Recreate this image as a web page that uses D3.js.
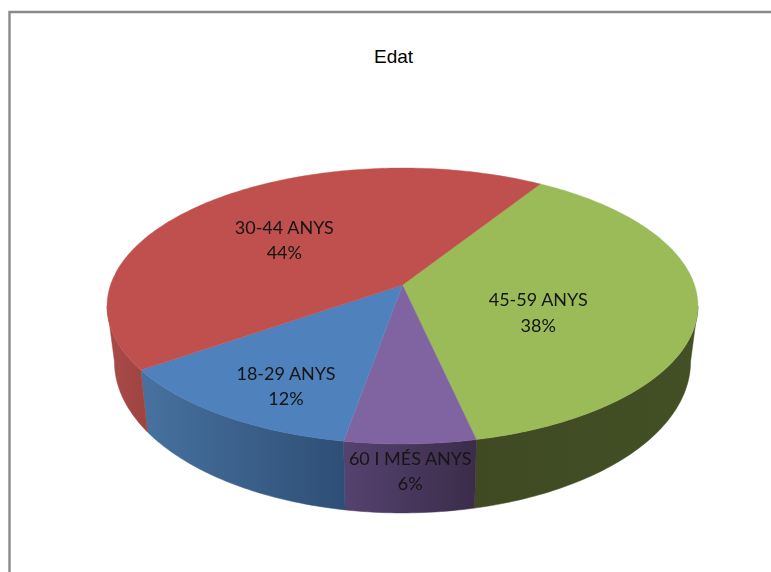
<!DOCTYPE html>
<html lang="ca">
<head>
<meta charset="utf-8">
<title>Edat</title>
<script src="https://cdn.jsdelivr.net/npm/d3@7/dist/d3.min.js"></script>
<style>
html,body{margin:0;padding:0;background:#fff;}
svg{display:block;}
</style>
</head>
<body>
<div id="chart"></div>
<script>
// ---- data (in drawing order, clockwise from the top right) ----
const titleText = "Edat";
const categories = ["45-59 ANYS", "60 I MÉS ANYS", "18-29 ANYS", "30-44 ANYS"];
const shares = [37.6, 6.2, 12.49, 43.71];

// ---- styles & layout ----
const topColors = ["#9BBB59", "#8064A2", "#4F81BD", "#C0504D"];
const sideColors = [["#3F4A22", "#434F25"], ["#55426F", "#3B2C4A"], ["#47729F", "#2E4E76"], ["#A94C49", "#9F4340"]];
const labelRadius = [0.5, 1, 0.5, 0.5];
const labelNudge = [[-10, 9.3], [0, 21], [-33, 34], [-17.6, -7]];
const W = 771, H = 572;
const cx = 402.5, cy = 285, a = 292, b = 134.8, k = 0.152;
const sideScaleX = 0.975, sideScaleY = 1.096, sideDrop = 53.7;
const startDeg = 32.2, stepDeg = 1;

const svg = d3.select("#chart").append("svg").attr("width", W).attr("height", H).attr("viewBox", [0, 0, W, H]);
const defs = svg.append("defs");
defs.append("filter").attr("id", "soft").attr("x", "-5%").attr("y", "-5%").attr("width", "110%").attr("height", "110%")
  .append("feGaussianBlur").attr("stdDeviation", 0.35);

// frame
const frame = d3.path();
frame.moveTo(9.5, H); frame.lineTo(9.5, 12); frame.lineTo(W, 12);
svg.append("path").attr("d", frame.toString()).attr("fill", "none").attr("stroke", "#8A8A8A").attr("stroke-width", 2.4);

// perspective projection of the pie disc
const rad = d => d * Math.PI / 180;
function project(theta, r = 1) {
  const w = 1 + k * r * Math.cos(theta);
  return [cx + a * r * Math.sin(theta) / w, cy - b * r * Math.cos(theta) / w];
}
function projectBottom(theta) {
  const [x, y] = project(theta);
  return [cx + sideScaleX * (x - cx), cy + sideDrop + sideScaleY * (y - cy)];
}

const pie = d3.pie().sort(null).value(d => d).startAngle(rad(startDeg)).endAngle(rad(startDeg + 360));
const arcs = pie(shares);
const line = d3.line();
const sweep = (t0, t1) => {
  const n = Math.max(2, Math.ceil((t1 - t0) / rad(stepDeg)));
  return d3.range(n + 1).map(i => t0 + (t1 - t0) * i / n);
};

// side wall: only the part facing the viewer, between the two silhouette angles
const wallFrom = Math.acos(-k), wallTo = 2 * Math.PI - Math.acos(-k);
const sides = svg.append("g");
arcs.forEach((d, i) => {
  const t0 = Math.max(d.startAngle, wallFrom), t1 = Math.min(d.endAngle, wallTo);
  if (t1 <= t0) return;
  const ts = sweep(t0, t1);
  const top = ts.map(t => project(t));
  const bottom = ts.map(projectBottom).reverse();
  const [x0, x1] = d3.extent(top.concat(bottom), p => p[0]);
  const grad = defs.append("linearGradient").attr("id", "wall" + i).attr("gradientUnits", "userSpaceOnUse")
    .attr("x1", x0).attr("x2", x1).attr("y1", 0).attr("y2", 0);
  grad.append("stop").attr("offset", 0).attr("stop-color", sideColors[i][0]);
  grad.append("stop").attr("offset", 1).attr("stop-color", sideColors[i][1]);
  sides.append("path").attr("d", line(top.concat(bottom)) + "Z")
    .attr("fill", `url(#wall${i})`).attr("stroke", `url(#wall${i})`).attr("stroke-width", 0.5);
});

// top face
const faces = svg.append("g");
arcs.forEach((d, i) => {
  const pts = [project(0, 0), ...sweep(d.startAngle, d.endAngle).map(t => project(t))];
  faces.append("path").attr("d", line(pts) + "Z").attr("fill", topColors[i]).attr("stroke", topColors[i]).attr("stroke-width", 0.4);
});

// labels
const pct = d3.format(".0f");
const labels = svg.append("g").attr("font-family", "Lato, 'Open Sans', sans-serif").attr("font-size", 18).attr("fill", "#141414").attr("text-anchor", "middle").attr("filter", "url(#soft)");
arcs.forEach((d, i) => {
  const mid = (d.startAngle + d.endAngle) / 2;
  const [x, y] = project(mid, labelRadius[i]);
  const [dx, dy] = labelNudge[i];
  const t = labels.append("text").attr("x", x + dx).attr("y", y + dy);
  t.append("tspan").attr("x", x + dx).text(categories[i]);
  t.append("tspan").attr("x", x + dx).attr("dy", 25.5).text(pct(d.data) + "%");
});

// title
svg.append("text").attr("x", 393.5).attr("y", 63).attr("text-anchor", "middle")
  .attr("font-family", "'Liberation Sans', Arial, sans-serif").attr("font-size", 19).attr("fill", "#000").text(titleText);
</script>
</body>
</html>
